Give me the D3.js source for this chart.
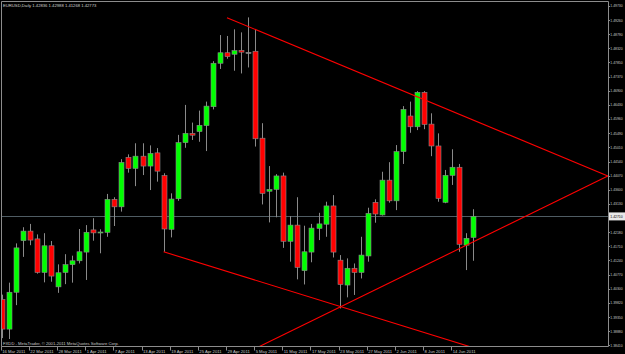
<!DOCTYPE html>
<html>
<head>
<meta charset="utf-8">
<script src="https://cdn.jsdelivr.net/npm/d3@7"></script>
<style>
  html, body { margin: 0; padding: 0; background: #000; }
  svg { display: block; }
  text { font-family: "Liberation Sans", Arial, sans-serif; }
</style>
</head>
<body>
<div id="chart"></div>
<script>
// EURUSD daily bars, 16 Mar 2011 .. 17 Jun 2011 (one entry per trading day)
var open  = [1.3994,1.3895,1.4018,1.4190,1.4222,1.4196,1.4084,1.4173,1.4036,1.4084,
             1.4110,1.4123,1.4152,1.4226,1.4216,1.4218,1.4328,1.4303,1.4468,1.4431,
             1.4472,1.4439,1.4483,1.4407,1.4228,1.4330,1.4517,1.4548,1.4554,1.4574,
             1.4637,1.4782,1.4817,1.4812,1.4825,1.4818,1.4822,1.4532,1.4355,1.4361,
             1.4406,1.4188,1.4242,1.4090,1.4152,1.4231,1.4245,1.4306,1.4125,1.4042,
             1.4098,1.4084,1.4139,1.4318,1.4276,1.4392,1.4323,1.4487,1.4606,1.4570,
             1.4685,1.4579,1.4506,1.4318,1.4408,1.4435,1.4175,1.4201];
var high  = [1.4010,1.4050,1.4181,1.4235,1.4246,1.4211,1.4215,1.4189,1.4111,1.4145,
             1.4140,1.4229,1.4242,1.4265,1.4228,1.4346,1.4335,1.4462,1.4478,1.4515,
             1.4515,1.4508,1.4499,1.4415,1.4348,1.4543,1.4643,1.4584,1.4624,1.4654,
             1.4789,1.4876,1.4873,1.4895,1.4885,1.4935,1.4893,1.4582,1.4439,1.4412,
             1.4417,1.4272,1.4335,1.4240,1.4246,1.4283,1.4320,1.4342,1.4142,1.4131,
             1.4114,1.4203,1.4300,1.4328,1.4420,1.4452,1.4509,1.4639,1.4654,1.4689,
             1.4689,1.4615,1.4548,1.4426,1.4495,1.4446,1.4215,1.4295];
var low   = [1.3865,1.3862,1.3975,1.4136,1.4175,1.4080,1.4051,1.4053,1.4016,1.4045,
             1.4050,1.4114,1.4059,1.4190,1.4148,1.4203,1.4239,1.4287,1.4417,1.4372,
             1.4409,1.4359,1.4387,1.4153,1.4201,1.4323,1.4500,1.4526,1.4520,1.4489,
             1.4628,1.4763,1.4797,1.4757,1.4748,1.4768,1.4504,1.4311,1.4251,1.4268,
             1.4166,1.4120,1.4061,1.4044,1.4118,1.4192,1.4203,1.4134,1.3964,1.4001,
             1.4009,1.4064,1.4120,1.4250,1.4274,1.4317,1.4292,1.4446,1.4550,1.4559,
             1.4562,1.4472,1.4320,1.4315,1.4376,1.4153,1.4092,1.4123];
var close = [1.3895,1.4018,1.4166,1.4222,1.4192,1.4084,1.4173,1.4072,1.4083,1.4110,
             1.4123,1.4153,1.4218,1.4216,1.4219,1.4328,1.4303,1.4451,1.4431,1.4472,
             1.4439,1.4481,1.4422,1.4229,1.4329,1.4517,1.4548,1.4542,1.4575,1.4639,
             1.4782,1.4817,1.4804,1.4824,1.4819,1.4818,1.4530,1.4348,1.4361,1.4406,
             1.4188,1.4242,1.4101,1.4153,1.4232,1.4246,1.4306,1.4152,1.4044,1.4098,
             1.4084,1.4142,1.4281,1.4279,1.4392,1.4323,1.4487,1.4628,1.4570,1.4685,
             1.4578,1.4506,1.4331,1.4408,1.4435,1.4178,1.4198,1.4271];

// time axis labels (bar index, text)
var dateBars = [0, 4, 8, 12, 16, 20, 24, 28, 32, 36, 40, 44, 48, 52, 56, 60, 64];
var dateLabels = ["16 Mar 2011", "22 Mar 2011", "28 Mar 2011", "1 Apr 2011", "7 Apr 2011",
                  "13 Apr 2011", "19 Apr 2011", "25 Apr 2011", "29 Apr 2011", "5 May 2011",
                  "11 May 2011", "17 May 2011", "23 May 2011", "27 May 2011", "2 Jun 2011",
                  "8 Jun 2011", "14 Jun 2011"];

// price axis labels
var priceTicks = [1.49730, 1.49260, 1.48790, 1.48320, 1.47850, 1.47370, 1.46900, 1.46430,
                  1.45960, 1.45490, 1.45010, 1.44540, 1.44070, 1.43600, 1.43130,
                  1.42180, 1.41710, 1.41240, 1.40770, 1.40300, 1.39820, 1.39350,
                  1.38880, 1.38410];
var bidPrice = 1.42710;

// trend lines drawn on the chart: [bar, price] pairs
var upperLine  = [[32, 1.4934], [86.1, 1.4406]];
var lowerLine  = [[23, 1.4153], [70, 1.3811]];
var risingLine = [[34, 1.3807], [86.1, 1.4406]];

var title = "EURUSD,Daily  1.42836 1.42988 1.41268 1.42773";
var copyright = "FXDD - MetaTrader, \u00A9 2001-2011 MetaQuotes Software Corp.";

// Chart frame
var W = 625, H = 354;
var plotLeft = 1.5, plotTop = 1.5, plotRight = 608.5, plotBottom = 346.5;

var x = d3.scaleLinear().domain([0, 67]).range([1.7, 1.7 + 7.04 * 67]);
var y = d3.scaleLinear().domain([1.38410, 1.49730]).range([345.3, 6]);

var svg = d3.select("#chart")
  .append("svg")
  .attr("width", W)
  .attr("height", H);

svg.append("rect").attr("width", W).attr("height", H).attr("fill", "#000");

svg.append("clipPath").attr("id", "plot-clip")
  .append("rect")
  .attr("x", plotLeft).attr("y", plotTop)
  .attr("width", plotRight - plotLeft).attr("height", plotBottom - plotTop);

var plot = svg.append("g").attr("clip-path", "url(#plot-clip)");

// bid line
plot.append("line")
  .attr("x1", plotLeft).attr("x2", plotRight)
  .attr("y1", Math.round(y(bidPrice)) + 0.5).attr("y2", Math.round(y(bidPrice)) + 0.5)
  .style("stroke", "#4f5c63")
  .style("stroke-width", "1px");

// Build bars
var bars = open.map(function(o, i) {
  return { i: i, o: o, h: high[i], l: low[i], c: close[i] };
});

var candle = plot.selectAll(".candle")
  .data(bars)
  .enter()
  .append("g")
  .attr("class", "candle");

candle.append("line")
  .attr("x1", function(d) { return Math.round(x(d.i)) + 0.5; })
  .attr("x2", function(d) { return Math.round(x(d.i)) + 0.5; })
  .attr("y1", function(d) { return y(d.h); })
  .attr("y2", function(d) { return y(d.l); })
  .style("stroke", "#8a8a8a")
  .style("stroke-width", "1px");

candle.append("rect")
  .attr("x", function(d) { return Math.round(x(d.i)) - 2; })
  .attr("width", 5)
  .attr("y", function(d) { return y(Math.max(d.o, d.c)); })
  .attr("height", function(d) { return Math.max(1, Math.abs(y(d.o) - y(d.c))); })
  .style("fill", function(d) {
    if (d.o === d.c) return "#9a9a9a";
    return d.c > d.o ? "#00ff00" : "#ff0000";
  })
  .style("stroke", "#8a8a8a")
  .style("stroke-width", "0.6px");

// trend lines
var trend = d3.line()
  .x(function(d) { return x(d[0]); })
  .y(function(d) { return y(d[1]); });

[upperLine, lowerLine, risingLine].forEach(function(t) {
  plot.append("path")
    .attr("d", trend(t))
    .style("fill", "none")
    .style("stroke", "#ff0000")
    .style("stroke-width", "1.1px");
});

// frame
svg.append("path")
  .attr("d", "M" + plotLeft + "," + plotBottom + "V" + plotTop + "H" + plotRight + "V" + plotBottom + "Z")
  .style("fill", "none")
  .style("stroke", "#8c8c8c")
  .style("stroke-width", "1px");

// price axis (labels squeezed to fit the narrow strip right of the plot)
var pAxis = svg.append("g").attr("class", "price-axis");
pAxis.selectAll("line")
  .data(priceTicks)
  .enter().append("line")
  .attr("x1", plotRight).attr("x2", plotRight + 1.5)
  .attr("y1", function(d) { return Math.round(y(d)) + 0.5; })
  .attr("y2", function(d) { return Math.round(y(d)) + 0.5; })
  .style("stroke", "#8c8c8c");

pAxis.selectAll("text")
  .data(priceTicks)
  .enter().append("text")
  .attr("x", 610.3)
  .attr("y", function(d) { return y(d); })
  .attr("dy", "0.35em")
  .attr("textLength", 12.4)
  .attr("lengthAdjust", "spacingAndGlyphs")
  .style("font-size", "4.1px")
  .style("fill", "#c8c8c8")
  .text(function(d) { return d.toFixed(5); });

// bid price box
svg.append("rect")
  .attr("x", plotRight + 0.5).attr("y", y(bidPrice) - 4)
  .attr("width", W - plotRight).attr("height", 8)
  .style("fill", "#e8e8e8");
svg.append("text")
  .attr("x", 610.3)
  .attr("y", y(bidPrice))
  .attr("dy", "0.35em")
  .attr("textLength", 12.4)
  .attr("lengthAdjust", "spacingAndGlyphs")
  .style("font-size", "4.1px")
  .style("fill", "#000")
  .text(bidPrice.toFixed(5));

// time axis
var tAxis = svg.append("g").attr("class", "time-axis");
tAxis.selectAll("line")
  .data(dateBars)
  .enter().append("line")
  .attr("x1", function(d) { return Math.round(x(d)) - 0.5; })
  .attr("x2", function(d) { return Math.round(x(d)) - 0.5; })
  .attr("y1", plotBottom).attr("y2", plotBottom + 4)
  .style("stroke", "#8c8c8c");

tAxis.selectAll("text")
  .data(dateBars)
  .enter().append("text")
  .attr("x", function(d) { return x(d) + 0.5; })
  .attr("y", 352.6)
  .style("font-size", "4.2px")
  .style("fill", "#c8c8c8")
  .text(function(d, i) { return dateLabels[i]; });

// title and copyright
svg.append("text")
  .attr("x", 3).attr("y", 6.6)
  .style("font-size", "4.2px")
  .style("fill", "#d0d0d0")
  .text(title);

svg.append("text")
  .attr("x", 3).attr("y", 344.6)
  .style("font-size", "4.2px")
  .style("fill", "#c8c8c8")
  .text(copyright);
</script>
</body>
</html>
